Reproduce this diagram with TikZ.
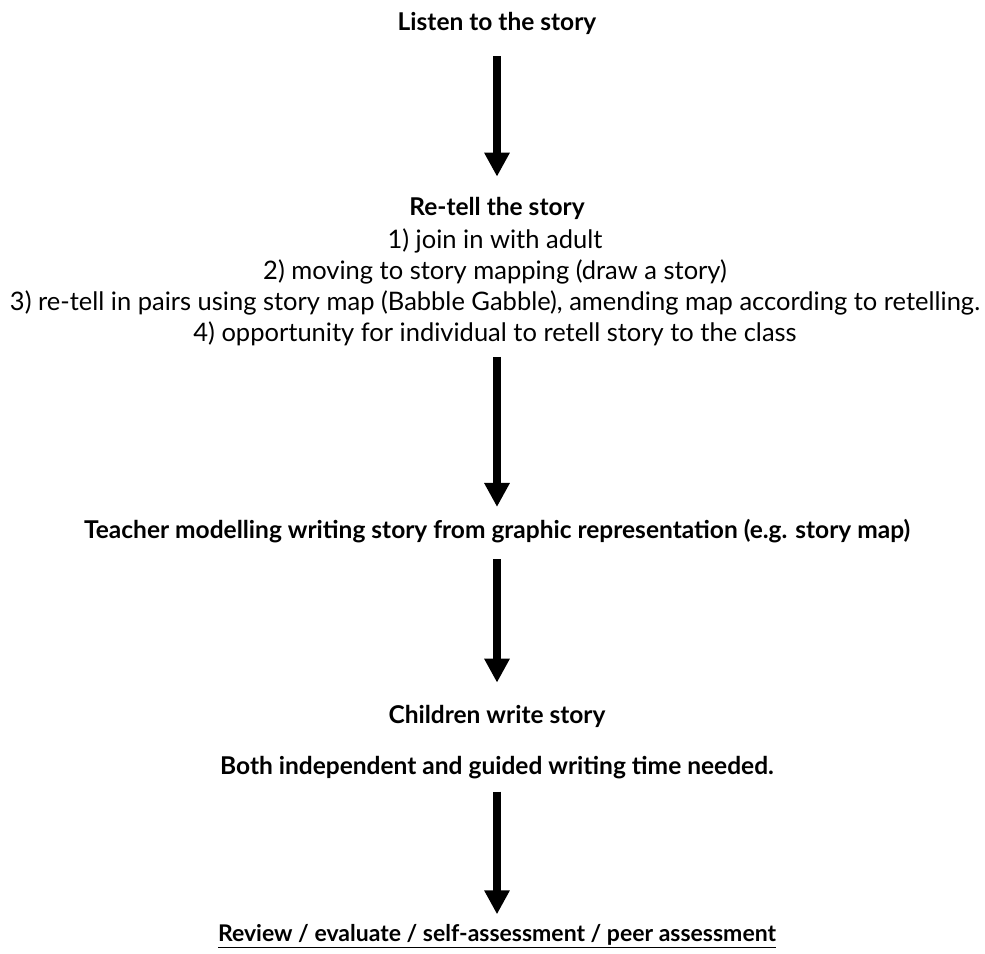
\documentclass[tikz,border=0pt]{standalone}
\usepackage{fontspec}
\setmainfont{Lato}
\usetikzlibrary{arrows.meta}

\begin{document}
\begin{tikzpicture}[x=1pt,y=-1pt,
        every node/.style={inner sep=0pt,align=center},
        heading/.style={font=\fontsize{24.5}{31}\selectfont\bfseries},
        steps/.style={font=\fontsize{25.5}{31}\selectfont},
        flowarrow/.style={line width=8pt,-{Triangle[width=24pt,length=24pt]}}]
    \useasboundingbox (0,0) rectangle (985,953);

    % headings and texts, top to bottom
    \node [heading] (listen)   at (497,23)  {Listen to the story};
    \node [heading] (retell)   at (497,208) {Re-tell the story};
    \node [steps]   (stepsA)   at (495,287) {1) join in with adult\\
                                             2) moving to story mapping (draw a story)\\
                                             3) re-tell in pairs using story map (Babble Gabble), amending map according to retelling.\\
                                             4) opportunity for individual to retell story to the class};
    \node [heading] (teacher)  at (497,531) {Teacher modelling writing story from graphic representation (e.g. story map)};
    \node [heading] (children) at (497,716) {Children write story};
    \node [heading] (both)     at (497,768) {Both independent and guided writing time needed.};
    \node [heading,font=\fontsize{23}{31}\selectfont\bfseries] (review) at (497,936)
        {\underline{Review / evaluate / self-assessment / peer assessment}};

    % arrows
    \draw [flowarrow,shorten <=22pt,shorten >=20pt] (listen) -- (retell);
    \draw [flowarrow,shorten <=11pt,shorten >=12pt] (stepsA.south -| retell) -- (teacher);
    \draw [flowarrow,shorten <=16pt,shorten >=22pt] (teacher) -- (children);
    \draw [flowarrow,shorten <=12pt,shorten >=10pt] (both) -- (review);
\end{tikzpicture}
\end{document}
